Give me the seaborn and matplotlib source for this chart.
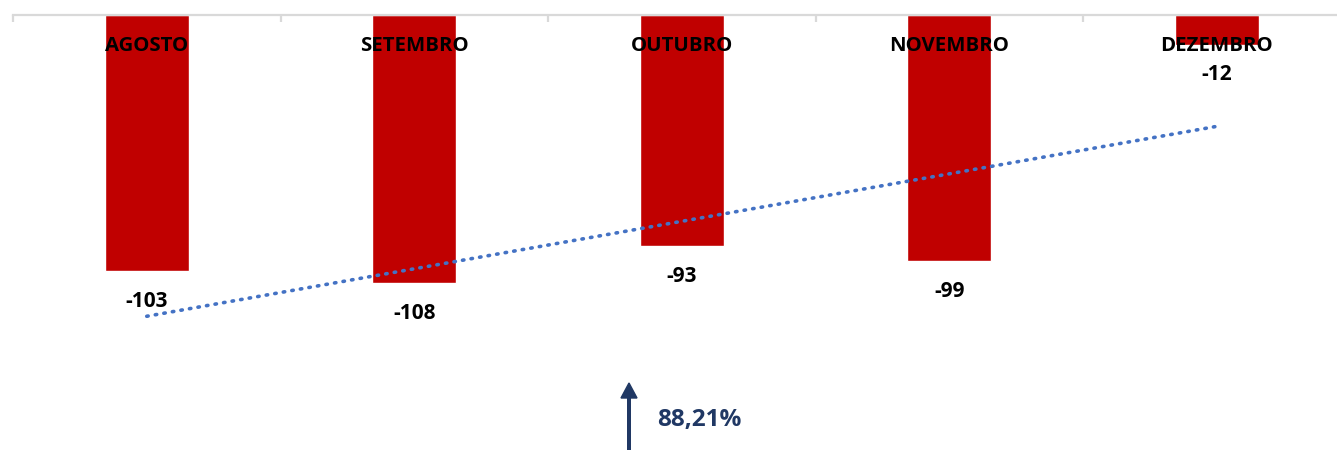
import matplotlib
matplotlib.use("Agg")
import matplotlib.pyplot as plt
import seaborn as sns
import pandas as pd
import numpy as np

categories = ["AGOSTO", "SETEMBRO", "OUTUBRO", "NOVEMBRO", "DEZEMBRO"]
values = [-103, -108, -93, -99, -12]
value_labels = ["-103", "-108", "-93", "-99", "-12"]
change_label = "88,21%"

sns.set_theme(style="white")
plt.rcParams["font.family"] = ["Open Sans", "DejaVu Sans"]

df = pd.DataFrame({"mes": categories, "valor": values, "pos": np.arange(len(categories))})

W, H = 1337, 450
fig = plt.figure(figsize=(W / 100, H / 100), dpi=100)
ax = fig.add_axes([13 / W, 0, 5 * 267.5 / W, 1 - 15 / H])

sns.barplot(data=df, x="mes", y="valor", order=categories, color="#C00000",
            saturation=1, width=0.314, ax=ax)
sns.regplot(data=df, x="pos", y="valor", scatter=False, ci=None, ax=ax,
            line_kws=dict(color="#4472C4", lw=2.6, linestyle=(0, (0.4, 2.0))))
for ln in ax.lines:
    ln.set_dash_capstyle("round")

ax.set_xlim(-0.5, 4.5)
ax.set_ylim(-175, 0)
ax.set_xlabel("")
ax.set_ylabel("")
ax.set_yticks([])
ax.set_xticks([])
for s in ["left", "right", "bottom"]:
    ax.spines[s].set_visible(False)
ax.spines["top"].set_color("#D9D9D9")
ax.spines["top"].set_linewidth(1.6)
ax.set_xticks(np.arange(-0.5, 5, 1.0), minor=True)
ax.tick_params(axis="x", which="minor", top=True, bottom=False, direction="in",
               length=5, width=1.6, color="#D9D9D9", labeltop=False, labelbottom=False)

for i, (c, v, lab) in enumerate(zip(categories, values, value_labels)):
    ax.annotate(c, xy=(i, 0), xytext=(0, -31), textcoords="offset pixels",
                ha="center", va="center", fontsize=14.7, fontweight="bold", color="black")
    ax.annotate(lab, xy=(i, v), xytext=(0, -30), textcoords="offset pixels",
                ha="center", va="center", fontsize=15, fontweight="bold", color="black")

navy = "#203864"
fig.patches.append(matplotlib.patches.FancyArrow(
    629 / W, 0, 0, (450 - 383) / H, width=2.6 / W, head_width=16 / W,
    head_length=15 / H, length_includes_head=True, transform=fig.transFigure,
    color=navy, figure=fig))
fig.text(657 / W, 1 - 420 / H, change_label, ha="left", va="center",
         fontsize=17.5, fontweight="bold", color=navy)

fig.savefig("out.png", dpi=100)
